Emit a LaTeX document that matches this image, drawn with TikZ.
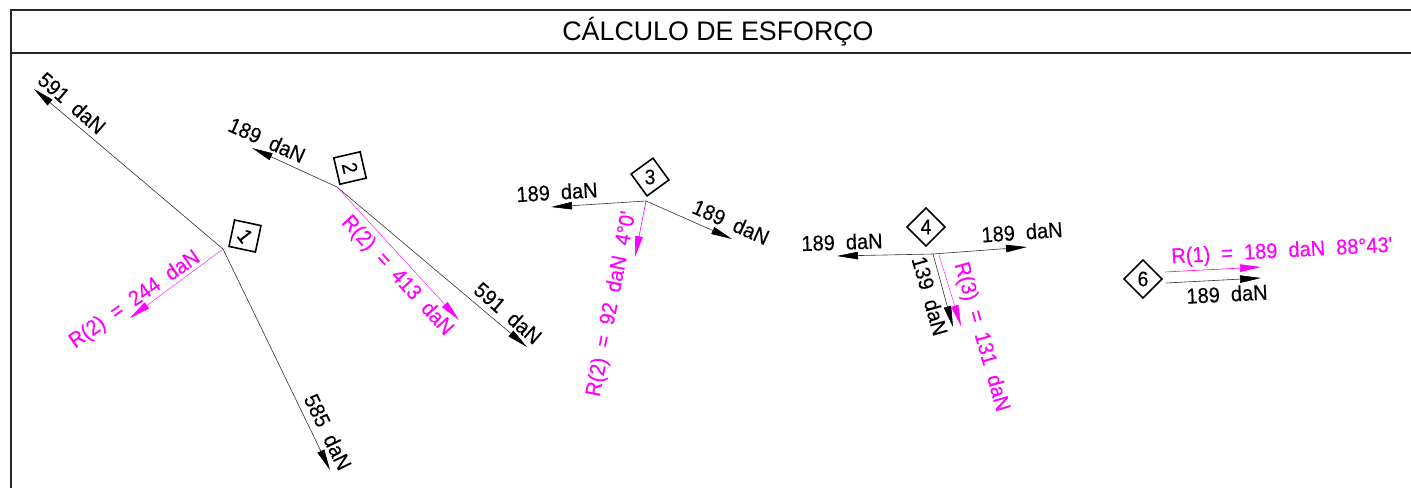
\documentclass[tikz,border=0pt]{standalone}
\usepackage{fontspec}
\setmainfont{Liberation Sans}
\newfontfamily\cad[FakeStretch=0.93,FakeBold=0.25]{Liberation Sans}
\usetikzlibrary{arrows.meta}
\definecolor{mag}{RGB}{255,0,255}
\tikzset{
  frameline/.style={line width=2pt,black!85},
  force/.style={line width=0.6pt,black!80,-{Triangle[length=21pt,width=7.5pt,color=black]}},
  result/.style={line width=0.6pt,mag,-{Triangle[length=21pt,width=7.5pt,color=mag]}},
  thinresult/.style={result,line width=0.4pt},
  lab/.style={font=\cad\fontsize{21.5}{24}\selectfont,inner sep=0pt,black},
  rlab/.style={lab,text=mag},
  tag/.style={draw=black,line width=1.6pt,minimum size=27pt,inner sep=0pt,font=\cad\fontsize{21}{24}\selectfont}
}
\begin{document}
\begin{tikzpicture}[x=1pt,y=-1pt]
\useasboundingbox (0,0) rectangle (1411,488);
\fill[white] (0,0) rectangle (1411,488);
% frame
\coordinate (ftl) at (10.5,10);
\coordinate (ftr) at (1411,10);
\coordinate (fml) at (10.5,53);
\coordinate (fmr) at (1411,53);
\coordinate (fbl) at (10.5,488);
\draw[frameline] (ftr) -- (ftl) -- (fbl);
\draw[frameline] (fml) -- (fmr);
\node[font=\fontsize{26.8}{30}\selectfont,inner sep=0pt] (title) at (718,32) {CÁLCULO DE ESFORÇO};
% point 1
\coordinate (j1) at (223,249);
\coordinate (t1a) at (34,89);
\coordinate (t1b) at (330,470);
\coordinate (t1r) at (130,318);
\draw[force] (j1) -- (t1a);
\draw[force] (j1) -- (t1b);
\draw[thinresult] (j1) -- (t1r);
\node[tag,rotate=-12] (n1) at (245,236) {\rotatebox{-40}{1}};
\node[lab,rotate=-41] (l1a) at (72,103) {591~~daN};
\node[lab,rotate=-64] (l1b) at (328,432) {585~~daN};
\node[rlab,rotate=35] (l1r) at (135,300) {R(2)~~=~~244~~daN};
% point 2
\coordinate (j2) at (337,187);
\coordinate (t2a) at (252,148);
\coordinate (t2b) at (527,347);
\coordinate (t2r) at (459,320);
\draw[force] (j2) -- (t2a);
\draw[force] (j2) -- (t2b);
\draw[thinresult] (j2) -- (t2r);
\node[tag,rotate=13] (n2) at (350,168) {\rotatebox{-90}{2}};
\node[lab,rotate=-24] (l2a) at (267,140) {189~~daN};
\node[lab,rotate=-41] (l2b) at (508,313) {591~~daN};
\node[rlab,rotate=-47.5] (l2r) at (397,276) {R(2)~~=~~413~~daN};
% point 3
\coordinate (j3) at (646,201);
\coordinate (t3a) at (551,207);
\coordinate (t3b) at (732,239);
\coordinate (t3r) at (635,257);
\draw[force] (j3) -- (t3a);
\draw[force] (j3) -- (t3b);
\draw[result] (j3) -- (t3r);
\node[tag,rotate=36] (n3) at (650,177) {\rotatebox{-36}{3}};
\node[lab,rotate=3.5] (l3a) at (557,192) {189~~daN};
\node[lab,rotate=-24] (l3b) at (731,222) {189~~daN};
\node[rlab,rotate=79] (l3r) at (612,304) {R(2)~~=~~92~~daN~~4°0'};
% point 4
\coordinate (j4) at (933,254);
\coordinate (r4) at (939,255);
\coordinate (t4a) at (837,256);
\coordinate (t4b) at (1027,247);
\coordinate (t4c) at (953,327);
\coordinate (t4r) at (961,326);
\draw[force] (j4) -- (t4a);
\draw[force] (j4) -- (t4b);
\draw[force] (j4) -- (t4c);
\draw[thinresult] (r4) -- (t4r);
\node[tag,rotate=45] (n4) at (926,227) {\rotatebox{-45}{4}};
\node[lab,rotate=2] (l4a) at (842,242) {189~~daN};
\node[lab,rotate=4] (l4b) at (1022,232) {189~~daN};
\node[lab,rotate=-74] (l4c) at (930,296) {139~~daN};
\node[rlab,rotate=-74] (l4r) at (981,337) {R(3)~~=~~131~~daN};
% point 6
\node[tag,rotate=45] (n6) at (1143,279) {\rotatebox{-45}{6}};
\coordinate (s6r) at (1165,272);
\coordinate (t6r) at (1261,267);
\coordinate (s6a) at (1166,283);
\coordinate (t6a) at (1261,278);
\draw[result] (s6r) -- (t6r);
\draw[force] (s6a) -- (t6a);
\node[rlab,rotate=3] (l6r) at (1282,252) {R(1)~~=~~189~~daN~~88°43'};
\node[lab,rotate=3] (l6a) at (1227,294) {189~~daN};
\end{tikzpicture}
\end{document}
